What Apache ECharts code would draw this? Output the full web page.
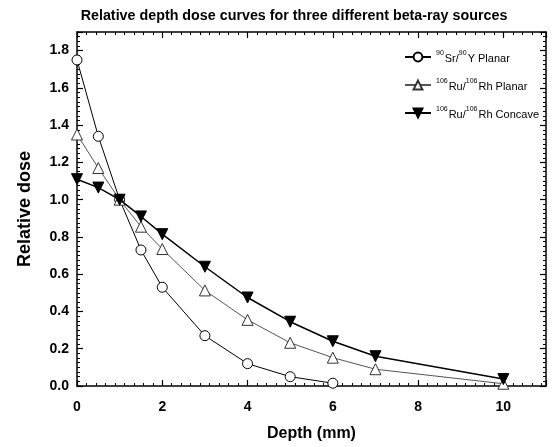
<!DOCTYPE html>
<html>
<head>
<meta charset="utf-8">
<script src="https://cdn.jsdelivr.net/npm/echarts@6/dist/echarts.min.js"></script>
<style>html,body{margin:0;padding:0;background:#fff}#c{width:553px;height:447px}</style>
</head>
<body>
<div id="c"></div>
<script>
const titleText = 'Relative depth dose curves for three different beta-ray sources';
const xName = 'Depth (mm)';
const yName = 'Relative dose';
const seriesNames = ['Sr/Y Planar', 'Ru/Rh Planar', 'Ru/Rh Concave'];
const depthSr = [0, 0.5, 1, 1.5, 2, 3, 4, 5, 6];
const doseSr = [1.75, 1.34, 1.0, 0.73, 0.53, 0.27, 0.12, 0.05, 0.015];
const depthRu = [0, 0.5, 1, 1.5, 2, 3, 4, 5, 6, 7, 10];
const doseRuPlanar = [1.35, 1.17, 1.0, 0.855, 0.735, 0.513, 0.355, 0.232, 0.152, 0.09, 0.012];
const doseRuConcave = [1.11, 1.065, 1.0, 0.91, 0.815, 0.64, 0.475, 0.345, 0.24, 0.16, 0.037];

const pairs = (xs, ys) => xs.map((x, i) => [x, ys[i]]);
const legendRich = {
  '0': '{s|90}{t|Sr/}{s|90}{t|Y Planar}',
  '1': '{s|106}{t|Ru/}{s|106}{t|Rh Planar}',
  '2': '{s|106}{t|Ru/}{s|106}{t|Rh Concave}'
};
const fam = '"Liberation Sans", Arial, sans-serif';
const chart = echarts.init(document.getElementById('c'));
const axisCommon = {
  axisLine: { show: true, onZero: false, lineStyle: { color: '#000', width: 1.5 } },
  axisTick: { show: true, inside: true, length: 6, lineStyle: { color: '#000', width: 1.2 } },
  minorTick: { show: true, length: 3, lineStyle: { color: '#000', width: 1 } },
  splitLine: { show: false }
};
const tickLabelStyle = { fontFamily: fam, fontSize: 14, fontWeight: 'bold', color: '#000' };
chart.setOption({
  animation: false,
  backgroundColor: '#fff',
  title: {
    text: titleText, left: 289, top: 4, textAlign: 'center',
    textStyle: { fontFamily: fam, fontSize: 14.3, fontWeight: 'bold', color: '#000' }
  },
  legend: {
    orient: 'vertical', left: 399, top: 45, itemGap: 14,
    itemWidth: 26, itemHeight: 11,
    data: seriesNames,
    formatter: function (name) { return legendRich[seriesNames.indexOf(name)]; },
    textStyle: {
      fontFamily: fam, fontSize: 11, color: '#000',
      rich: {
        t: { fontFamily: fam, fontSize: 11, color: '#000', lineHeight: 14, verticalAlign: 'bottom' },
        s: { fontFamily: fam, fontSize: 7, color: '#000', lineHeight: 14, verticalAlign: 'top', padding: [0, 1, 0, 0] }
      }
    }
  },
  grid: { left: 77, right: 7, top: 32, bottom: 54, containLabel: false },
  xAxis: [
    Object.assign({}, axisCommon, {
      type: 'value', min: 0, max: 11, interval: 2, position: 'bottom',
      minorTick: Object.assign({}, axisCommon.minorTick, { splitNumber: 9 }),
      name: xName, nameLocation: 'middle', nameGap: 40,
      nameTextStyle: { fontFamily: fam, fontSize: 16, fontWeight: 'bold', color: '#000' },
      axisLabel: Object.assign({ showMaxLabel: false, margin: 14 }, tickLabelStyle)
    }),
    Object.assign({}, axisCommon, {
      type: 'value', min: 0, max: 11, interval: 2, position: 'top',
      minorTick: Object.assign({}, axisCommon.minorTick, { splitNumber: 9 }),
      axisLabel: { show: false }
    })
  ],
  yAxis: [
    Object.assign({}, axisCommon, {
      type: 'value', min: 0, max: 1.9, interval: 0.2, position: 'left',
      minorTick: Object.assign({}, axisCommon.minorTick, { splitNumber: 8 }),
      name: yName, nameLocation: 'middle', nameGap: 43,
      nameTextStyle: { fontFamily: fam, fontSize: 18, fontWeight: 'bold', color: '#000' },
      axisLabel: Object.assign({ showMaxLabel: false, margin: 8,
        formatter: function (v) { return v.toFixed(1); } }, tickLabelStyle)
    }),
    Object.assign({}, axisCommon, {
      type: 'value', min: 0, max: 1.9, interval: 0.2, position: 'right',
      minorTick: Object.assign({}, axisCommon.minorTick, { splitNumber: 8 }),
      axisLabel: { show: false }
    })
  ],
  series: [
    {
      name: seriesNames[0], type: 'line', data: pairs(depthSr, doseSr),
      symbol: 'circle', symbolSize: 10, showAllSymbol: true,
      lineStyle: { color: '#000', width: 1 },
      itemStyle: { color: '#fff', borderColor: '#000', borderWidth: 1 }, z: 3
    },
    {
      name: seriesNames[1], type: 'line', data: pairs(depthRu, doseRuPlanar),
      symbol: 'triangle', symbolSize: 11, showAllSymbol: true,
      lineStyle: { color: '#555', width: 1 },
      itemStyle: { color: '#fff', borderColor: '#333', borderWidth: 1 }, z: 4
    },
    {
      name: seriesNames[2], type: 'line', data: pairs(depthRu, doseRuConcave),
      symbol: 'triangle', symbolRotate: 180, symbolSize: 11, showAllSymbol: true,
      lineStyle: { color: '#000', width: 1.5 },
      itemStyle: { color: '#000', borderColor: '#000', borderWidth: 1 }, z: 5
    }
  ]
});
</script>
</body>
</html>
